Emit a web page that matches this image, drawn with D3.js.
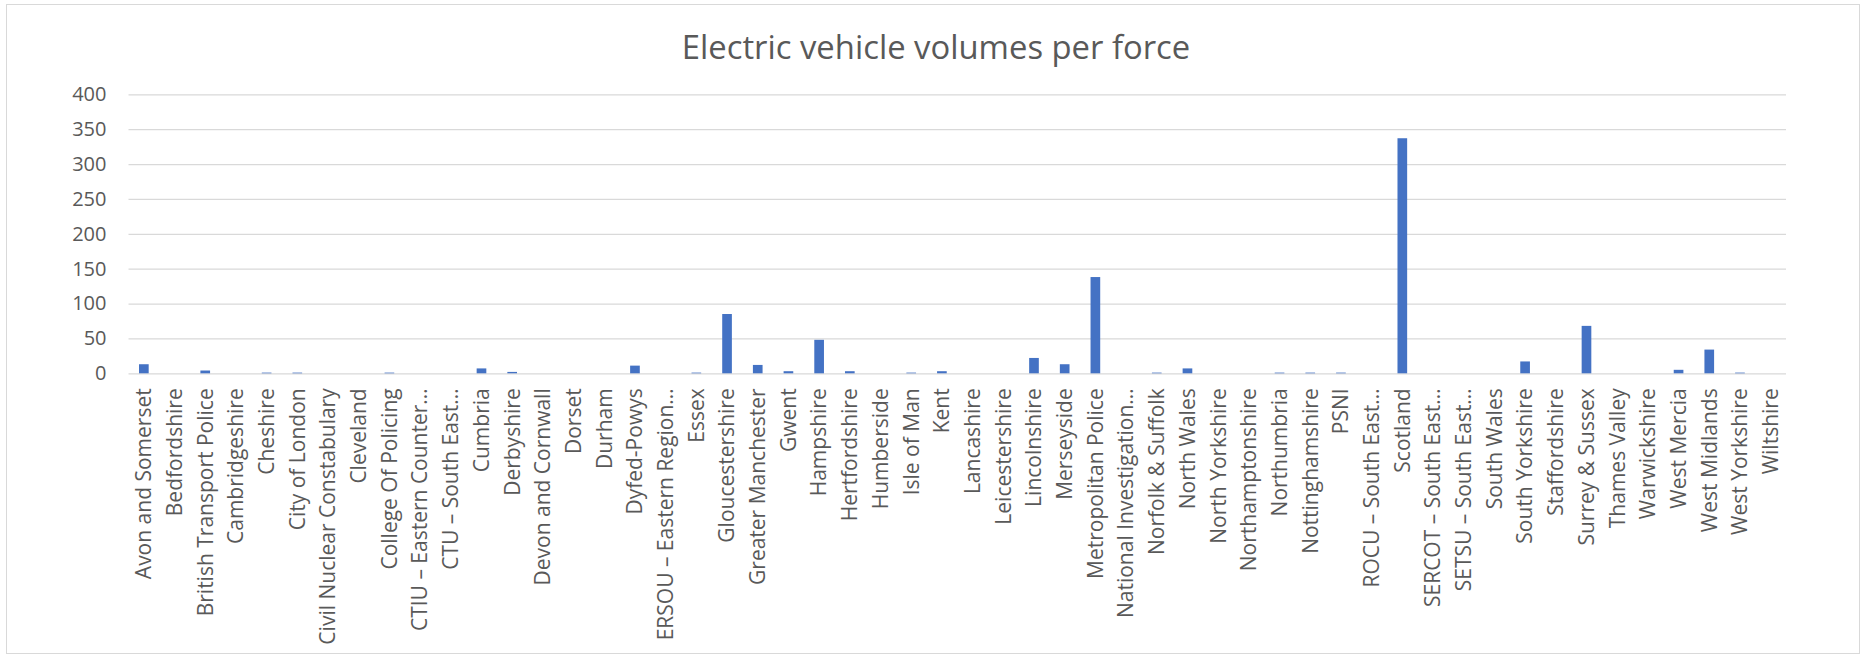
<!DOCTYPE html>
<html>
<head>
<meta charset="utf-8">
<script src="https://cdn.jsdelivr.net/npm/d3@7"></script>
<style>
  html, body { margin: 0; padding: 0; background: #fff; }
  svg { display: block; }
</style>
</head>
<body>
<svg id="chart" width="1866" height="656"></svg>
<script>
// Forces as shown on the category axis (Excel truncated the long ones)
const forces = [
  'Avon and Somerset', 'Bedfordshire', 'British Transport Police', 'Cambridgeshire',
  'Cheshire', 'City of London', 'Civil Nuclear Constabulary', 'Cleveland',
  'College Of Policing', 'CTIU – Eastern Counter…', 'CTU – South East…', 'Cumbria',
  'Derbyshire', 'Devon and Cornwall', 'Dorset', 'Durham', 'Dyfed-Powys',
  'ERSOU – Eastern Region…', 'Essex', 'Gloucestershire', 'Greater Manchester', 'Gwent',
  'Hampshire', 'Hertfordshire', 'Humberside', 'Isle of Man', 'Kent', 'Lancashire',
  'Leicestershire', 'Lincolnshire', 'Merseyside', 'Metropolitan Police',
  'National Investigation…', 'Norfolk & Suffolk', 'North Wales', 'North Yorkshire',
  'Northamptonshire', 'Northumbria', 'Nottinghamshire', 'PSNI', 'ROCU – South East…',
  'Scotland', 'SERCOT – South East…', 'SETSU – South East…', 'South Wales',
  'South Yorkshire', 'Staffordshire', 'Surrey & Sussex', 'Thames Valley', 'Warwickshire',
  'West Mercia', 'West Midlands', 'West Yorkshire', 'Wiltshire'
];

// electric vehicle count, one per force
const volumes = [
  13, 0, 4, 0,
  1, 1, 0, 0,
  1, 0, 0, 7,
  2, 0, 0, 0, 11,
  0, 1, 85, 12, 3,
  48, 3, 0, 1, 3, 0,
  0, 22, 13, 138,
  0, 1, 7, 0,
  0, 1, 1, 1, 0,
  337, 0, 0, 0,
  17, 0, 68, 0, 0,
  5, 34, 1, 0
];

const yTicks = [0, 50, 100, 150, 200, 250, 300, 350, 400];
const title = 'Electric vehicle volumes per force';

const W = 1866, H = 656;
const margin = { left: 128.5, right: 80, top: 94.3, bottom: 282.7 };
const fontFamily = '"Segoe UI", "Open Sans", sans-serif';

const svg = d3.select('#chart');

// chart area border
svg.append('rect')
  .attr('x', 6.5).attr('y', 4.5)
  .attr('width', 1853).attr('height', 649)
  .attr('fill', '#fff')
  .attr('stroke', '#d9d9d9')
  .attr('stroke-width', 1);

const x = d3.scaleBand()
  .domain(forces)
  .range([margin.left, W - margin.right])
  .paddingInner(0.685)
  .paddingOuter(0.3425);

const y = d3.scaleLinear()
  .domain([0, 400])
  .range([H - margin.bottom, margin.top]);

// gridlines
const yAxis = d3.axisLeft(y)
  .tickValues(yTicks)
  .tickSize(-(W - margin.right - margin.left))
  .tickPadding(22);

const gy = svg.append('g')
  .attr('transform', `translate(${margin.left},0)`)
  .call(yAxis);
gy.select('.domain').remove();
gy.selectAll('.tick line')
  .attr('stroke', '#d9d9d9')
  .attr('stroke-width', 1.3);
gy.selectAll('.tick text')
  .attr('fill', '#595959')
  .attr('font-family', fontFamily)
  .attr('font-size', 20);

// bars
svg.append('g')
  .selectAll('rect')
  .data(volumes)
  .join('rect')
  .attr('x', (d, i) => x(forces[i]))
  .attr('y', (d) => y(d))
  .attr('width', x.bandwidth())
  .attr('height', (d) => y(0) - y(d))
  .attr('fill', '#4472C4');

// category labels, rotated
const xAxis = d3.axisBottom(x).tickSize(0).tickPadding(0);
const gx = svg.append('g')
  .attr('transform', `translate(0,${y(0)})`)
  .call(xAxis);
gx.select('.domain').remove();
gx.selectAll('.tick text')
  .attr('fill', '#595959')
  .attr('font-family', fontFamily)
  .attr('font-size', 21)
  .attr('transform', 'rotate(-90)')
  .attr('text-anchor', 'end')
  .attr('x', -15)
  .attr('y', 0)
  .attr('dy', '0.35em');

// title
svg.append('text')
  .attr('x', 936)
  .attr('y', 59)
  .attr('text-anchor', 'middle')
  .attr('fill', '#595959')
  .attr('font-family', fontFamily)
  .attr('font-size', 32.8)
  .text(title);
</script>
</body>
</html>
